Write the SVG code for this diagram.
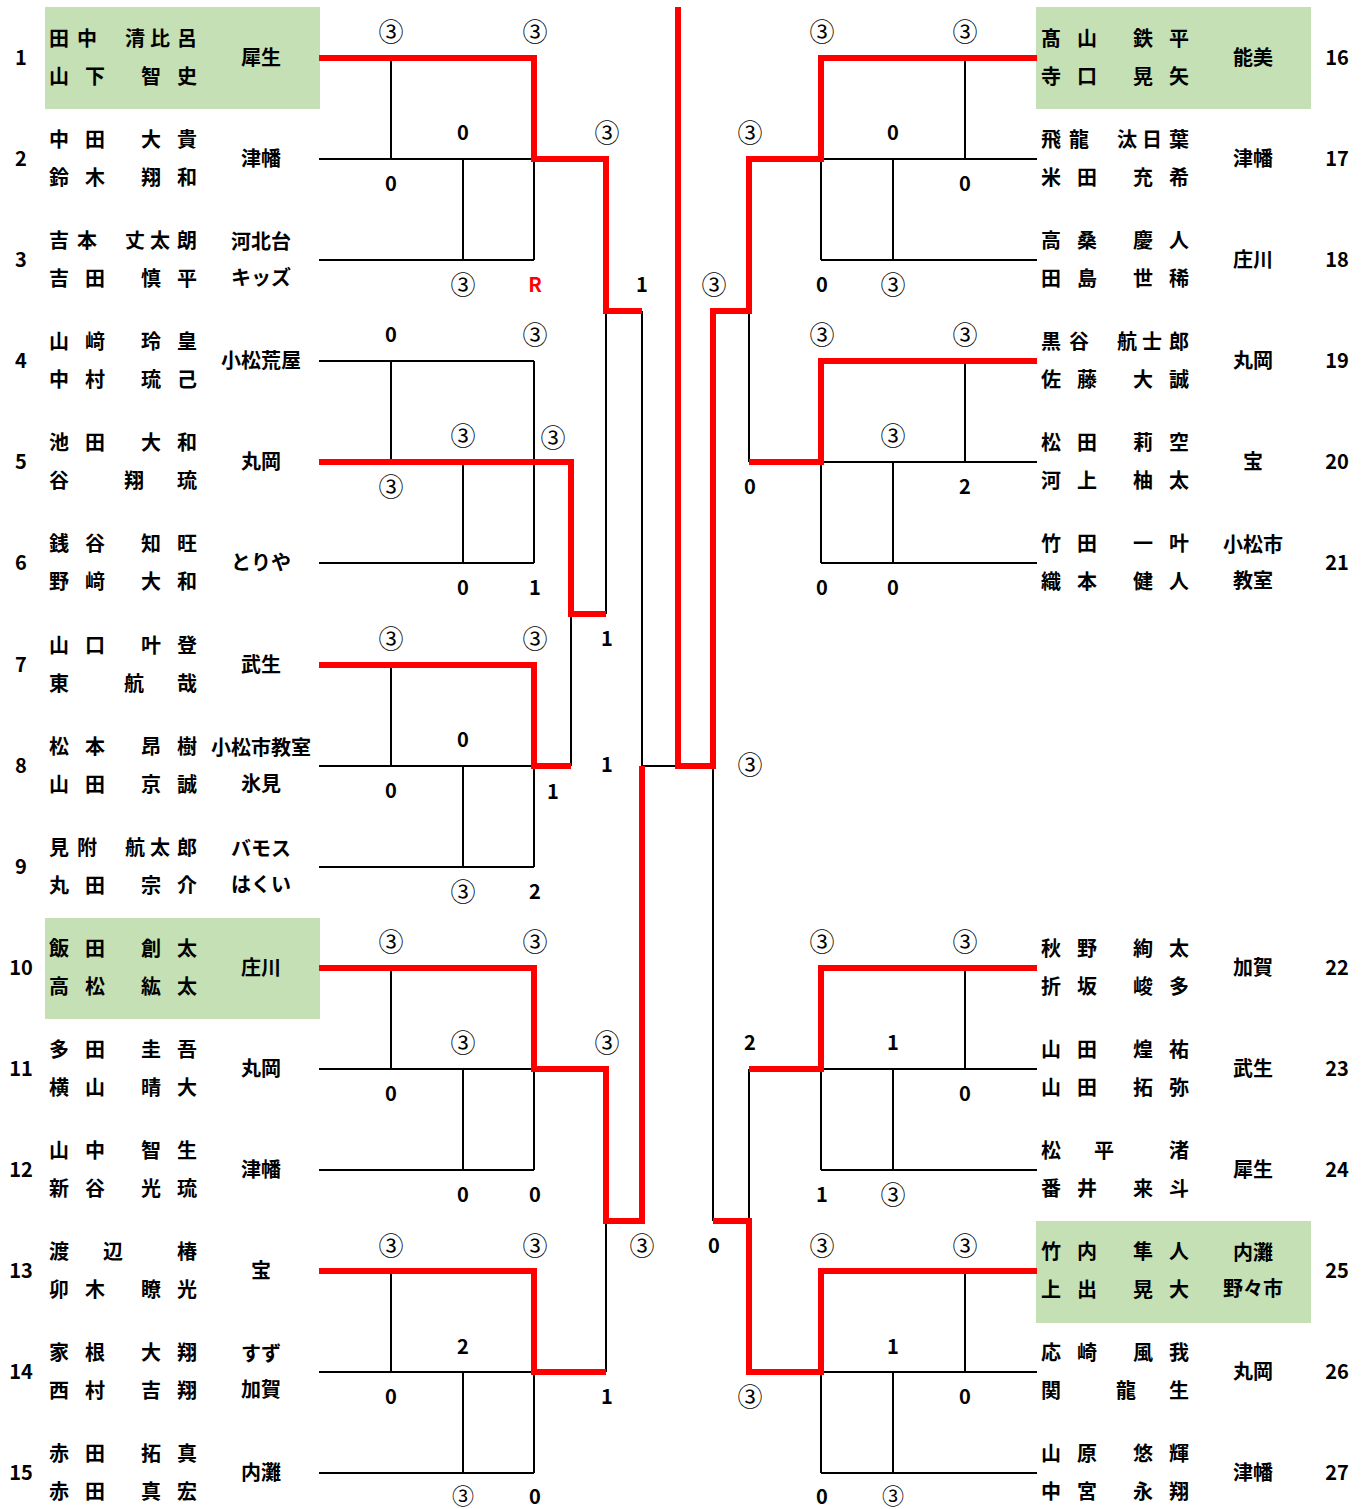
<svg xmlns="http://www.w3.org/2000/svg" width="1367" height="1509" viewBox="0 0 1367 1509">
<style>
text{font-family:"Noto Sans CJK JP","Noto Sans",sans-serif;fill:#000;dominant-baseline:central;text-anchor:middle}
.n{font-size:20px;font-weight:700}
.no{font-size:20px;font-weight:700}
.cl{font-size:20px;font-weight:700}
.s{font-size:20px;font-weight:700}
.c{font-size:25px;font-weight:400}
.cb{font-size:22px}
.r{fill:#ff0000}
.bk{stroke:#000;stroke-width:2;fill:none}
.rd{stroke:#ff0000;stroke-width:6;fill:none;stroke-linejoin:miter;stroke-linecap:butt}
.hl{fill:#c5e0b4}
</style>
<rect width="1367" height="1509" fill="#fff"/>
<g id="highlights">
<rect class="hl" x="45" y="7" width="275" height="102"/>
<rect class="hl" x="45" y="918" width="275" height="101"/>
<rect class="hl" x="1036" y="7" width="275" height="102"/>
<rect class="hl" x="1036" y="1221" width="275" height="102"/>
</g>
<g id="connectors">
<path class="bk" d="M319 58H534M319 159H534M319 260H534M391 58V159M463 159V260M534 58V260"/>
<path class="bk" d="M319 361H534M319 462H534M319 563H534M391 361V462M463 462V563M534 361V563"/>
<path class="bk" d="M319 665H534M319 766H534M319 867H534M391 665V766M463 766V867M534 665V867"/>
<path class="bk" d="M319 968H534M319 1069H534M319 1170H534M391 968V1069M463 1069V1170M534 968V1170"/>
<path class="bk" d="M319 1271H534M319 1372H534M319 1473H534M391 1271V1372M463 1372V1473M534 1271V1473"/>
<path class="bk" d="M821 58H1037M821 159H1037M821 260H1037M965 58V159M893 159V260M821 58V260"/>
<path class="bk" d="M821 361H1037M821 462H1037M821 563H1037M965 361V462M893 462V563M821 361V563"/>
<path class="bk" d="M821 968H1037M821 1069H1037M821 1170H1037M965 968V1069M893 1069V1170M821 968V1170"/>
<path class="bk" d="M821 1271H1037M821 1372H1037M821 1473H1037M965 1271V1372M893 1372V1473M821 1271V1473"/>
<path class="bk" d="M571 462V766M606 159V614M642 311V1221M642 766H678M606 1069V1372M713 311V1221M749 159V462M749 1069V1372"/>
<path class="rd" d="M319 58H534V159H606V311H642"/>
<path class="rd" d="M319 462H571V614H606"/>
<path class="rd" d="M319 665H534V766H571"/>
<path class="rd" d="M319 968H534V1069H606V1221H642V766"/>
<path class="rd" d="M319 1271H534V1372H606"/>
<path class="rd" d="M678 7V766H713V311H749V159H821V58H1037"/>
<path class="rd" d="M1037 361H821V462H749"/>
<path class="rd" d="M1037 968H821V1069H749"/>
<path class="rd" d="M1037 1271H821V1372H749V1221H713"/>
</g>
<g id="scores">
<text class="c" x="391" y="30">③</text><text class="c" x="535" y="30">③</text>
<text class="s" x="463" y="131">0</text><text class="c" x="607" y="131">③</text>
<text class="s" x="391" y="182">0</text>
<text class="c" x="463" y="283">③</text><text class="s r" x="535" y="283">R</text><text class="s" x="642" y="283">1</text>
<text class="s" x="391" y="333">0</text><text class="c" x="535" y="333">③</text>
<text class="c" x="463" y="434">③</text><text class="c" x="553" y="436">③</text>
<text class="c" x="391" y="485">③</text>
<text class="s" x="463" y="586">0</text><text class="s" x="535" y="586">1</text>
<text class="s" x="607" y="637">1</text>
<text class="c" x="391" y="637">③</text><text class="c" x="535" y="637">③</text>
<text class="s" x="463" y="738">0</text>
<text class="s" x="607" y="763">1</text>
<text class="s" x="391" y="789">0</text><text class="s" x="553" y="790">1</text>
<text class="c" x="463" y="890">③</text><text class="s" x="535" y="890">2</text>
<text class="c" x="391" y="940">③</text><text class="c" x="535" y="940">③</text>
<text class="c" x="463" y="1041">③</text><text class="c" x="607" y="1041">③</text>
<text class="s" x="391" y="1092">0</text>
<text class="s" x="463" y="1193">0</text><text class="s" x="535" y="1193">0</text>
<text class="c" x="642" y="1244">③</text>
<text class="c" x="391" y="1244">③</text><text class="c" x="535" y="1244">③</text>
<text class="s" x="463" y="1345">2</text>
<text class="s" x="391" y="1395">0</text><text class="s" x="607" y="1395">1</text>
<text class="c cb" x="463" y="1494">③</text><text class="s" x="535" y="1495">0</text>
<text class="c" x="750" y="763">③</text>
<text class="s" x="714" y="1244">0</text>
<text class="c" x="822" y="30">③</text><text class="c" x="965" y="30">③</text>
<text class="c" x="750" y="131">③</text><text class="s" x="893" y="131">0</text>
<text class="s" x="965" y="182">0</text>
<text class="c" x="714" y="283">③</text><text class="s" x="822" y="283">0</text><text class="c" x="893" y="283">③</text>
<text class="c" x="822" y="333">③</text><text class="c" x="965" y="333">③</text>
<text class="c" x="893" y="434">③</text>
<text class="s" x="750" y="485">0</text><text class="s" x="965" y="485">2</text>
<text class="s" x="822" y="586">0</text><text class="s" x="893" y="586">0</text>
<text class="c" x="822" y="940">③</text><text class="c" x="965" y="940">③</text>
<text class="s" x="750" y="1041">2</text><text class="s" x="893" y="1041">1</text>
<text class="s" x="965" y="1092">0</text>
<text class="s" x="822" y="1193">1</text><text class="c" x="893" y="1193">③</text>
<text class="c" x="822" y="1244">③</text><text class="c" x="965" y="1244">③</text>
<text class="s" x="893" y="1345">1</text>
<text class="c" x="750" y="1395">③</text><text class="s" x="965" y="1395">0</text>
<text class="s" x="822" y="1495">0</text><text class="c cb" x="893" y="1494">③</text>
</g>
<g id="entry-1"><text class="no" x="21" y="56">1</text><text class="n" x="59 87 135 160 187" y="37">田中清比呂</text><text class="n" x="59 95 151 187" y="75">山下智史</text><text class="cl" x="261" y="56">犀生</text></g>
<g id="entry-2"><text class="no" x="21" y="157">2</text><text class="n" x="59 95 151 187" y="138">中田大貴</text><text class="n" x="59 95 151 187" y="176">鈴木翔和</text><text class="cl" x="261" y="157">津幡</text></g>
<g id="entry-3"><text class="no" x="21" y="258">3</text><text class="n" x="59 87 135 160 187" y="239">吉本丈太朗</text><text class="n" x="59 95 151 187" y="277">吉田慎平</text><text class="cl" x="261" y="240">河北台</text><text class="cl" x="261" y="276">キッズ</text></g>
<g id="entry-4"><text class="no" x="21" y="359">4</text><text class="n" x="59 95 151 187" y="340">山﨑玲皇</text><text class="n" x="59 95 151 187" y="378">中村琉己</text><text class="cl" x="261" y="359">小松荒屋</text></g>
<g id="entry-5"><text class="no" x="21" y="460">5</text><text class="n" x="59 95 151 187" y="441">池田大和</text><text class="n" x="59 134 187" y="479">谷翔琉</text><text class="cl" x="261" y="460">丸岡</text></g>
<g id="entry-6"><text class="no" x="21" y="561">6</text><text class="n" x="59 95 151 187" y="542">銭谷知旺</text><text class="n" x="59 95 151 187" y="580">野﨑大和</text><text class="cl" x="261" y="561">とりや</text></g>
<g id="entry-7"><text class="no" x="21" y="663">7</text><text class="n" x="59 95 151 187" y="644">山口叶登</text><text class="n" x="59 134 187" y="682">東航哉</text><text class="cl" x="261" y="663">武生</text></g>
<g id="entry-8"><text class="no" x="21" y="764">8</text><text class="n" x="59 95 151 187" y="745">松本昂樹</text><text class="n" x="59 95 151 187" y="783">山田京誠</text><text class="cl" x="261" y="746">小松市教室</text><text class="cl" x="261" y="782">氷見</text></g>
<g id="entry-9"><text class="no" x="21" y="865">9</text><text class="n" x="59 87 135 160 187" y="846">見附航太郎</text><text class="n" x="59 95 151 187" y="884">丸田宗介</text><text class="cl" x="261" y="847">バモス</text><text class="cl" x="261" y="883">はくい</text></g>
<g id="entry-10"><text class="no" x="21" y="966">10</text><text class="n" x="59 95 151 187" y="947">飯田創太</text><text class="n" x="59 95 151 187" y="985">高松紘太</text><text class="cl" x="261" y="966">庄川</text></g>
<g id="entry-11"><text class="no" x="21" y="1067">11</text><text class="n" x="59 95 151 187" y="1048">多田圭吾</text><text class="n" x="59 95 151 187" y="1086">横山晴大</text><text class="cl" x="261" y="1067">丸岡</text></g>
<g id="entry-12"><text class="no" x="21" y="1168">12</text><text class="n" x="59 95 151 187" y="1149">山中智生</text><text class="n" x="59 95 151 187" y="1187">新谷光琉</text><text class="cl" x="261" y="1168">津幡</text></g>
<g id="entry-13"><text class="no" x="21" y="1269">13</text><text class="n" x="59 113 187" y="1250">渡辺椿</text><text class="n" x="59 95 151 187" y="1288">卯木瞭光</text><text class="cl" x="261" y="1269">宝</text></g>
<g id="entry-14"><text class="no" x="21" y="1370">14</text><text class="n" x="59 95 151 187" y="1351">家根大翔</text><text class="n" x="59 95 151 187" y="1389">西村吉翔</text><text class="cl" x="261" y="1352">すず</text><text class="cl" x="261" y="1388">加賀</text></g>
<g id="entry-15"><text class="no" x="21" y="1471">15</text><text class="n" x="59 95 151 187" y="1452">赤田拓真</text><text class="n" x="59 95 151 187" y="1490">赤田真宏</text><text class="cl" x="261" y="1471">内灘</text></g>
<g id="entry-16"><text class="no" x="1337" y="56">16</text><text class="n" x="1051 1087 1143 1179" y="37">髙山鉄平</text><text class="n" x="1051 1087 1143 1179" y="75">寺口晃矢</text><text class="cl" x="1253" y="56">能美</text></g>
<g id="entry-17"><text class="no" x="1337" y="157">17</text><text class="n" x="1051 1079 1127 1152 1179" y="138">飛龍汰日葉</text><text class="n" x="1051 1087 1143 1179" y="176">米田充希</text><text class="cl" x="1253" y="157">津幡</text></g>
<g id="entry-18"><text class="no" x="1337" y="258">18</text><text class="n" x="1051 1087 1143 1179" y="239">高桑慶人</text><text class="n" x="1051 1087 1143 1179" y="277">田島世稀</text><text class="cl" x="1253" y="258">庄川</text></g>
<g id="entry-19"><text class="no" x="1337" y="359">19</text><text class="n" x="1051 1079 1127 1152 1179" y="340">黒谷航士郎</text><text class="n" x="1051 1087 1143 1179" y="378">佐藤大誠</text><text class="cl" x="1253" y="359">丸岡</text></g>
<g id="entry-20"><text class="no" x="1337" y="460">20</text><text class="n" x="1051 1087 1143 1179" y="441">松田莉空</text><text class="n" x="1051 1087 1143 1179" y="479">河上柚太</text><text class="cl" x="1253" y="460">宝</text></g>
<g id="entry-21"><text class="no" x="1337" y="561">21</text><text class="n" x="1051 1087 1143 1179" y="542">竹田一叶</text><text class="n" x="1051 1087 1143 1179" y="580">織本健人</text><text class="cl" x="1253" y="543">小松市</text><text class="cl" x="1253" y="579">教室</text></g>
<g id="entry-22"><text class="no" x="1337" y="966">22</text><text class="n" x="1051 1087 1143 1179" y="947">秋野絢太</text><text class="n" x="1051 1087 1143 1179" y="985">折坂峻多</text><text class="cl" x="1253" y="966">加賀</text></g>
<g id="entry-23"><text class="no" x="1337" y="1067">23</text><text class="n" x="1051 1087 1143 1179" y="1048">山田煌祐</text><text class="n" x="1051 1087 1143 1179" y="1086">山田拓弥</text><text class="cl" x="1253" y="1067">武生</text></g>
<g id="entry-24"><text class="no" x="1337" y="1168">24</text><text class="n" x="1051 1104 1179" y="1149">松平渚</text><text class="n" x="1051 1087 1143 1179" y="1187">番井来斗</text><text class="cl" x="1253" y="1168">犀生</text></g>
<g id="entry-25"><text class="no" x="1337" y="1269">25</text><text class="n" x="1051 1087 1143 1179" y="1250">竹内隼人</text><text class="n" x="1051 1087 1143 1179" y="1288">上出晃大</text><text class="cl" x="1253" y="1251">内灘</text><text class="cl" x="1253" y="1287">野々市</text></g>
<g id="entry-26"><text class="no" x="1337" y="1370">26</text><text class="n" x="1051 1087 1143 1179" y="1351">応崎風我</text><text class="n" x="1051 1126 1179" y="1389">関龍生</text><text class="cl" x="1253" y="1370">丸岡</text></g>
<g id="entry-27"><text class="no" x="1337" y="1471">27</text><text class="n" x="1051 1087 1143 1179" y="1452">山原悠輝</text><text class="n" x="1051 1087 1143 1179" y="1490">中宮永翔</text><text class="cl" x="1253" y="1471">津幡</text></g>
</svg>
